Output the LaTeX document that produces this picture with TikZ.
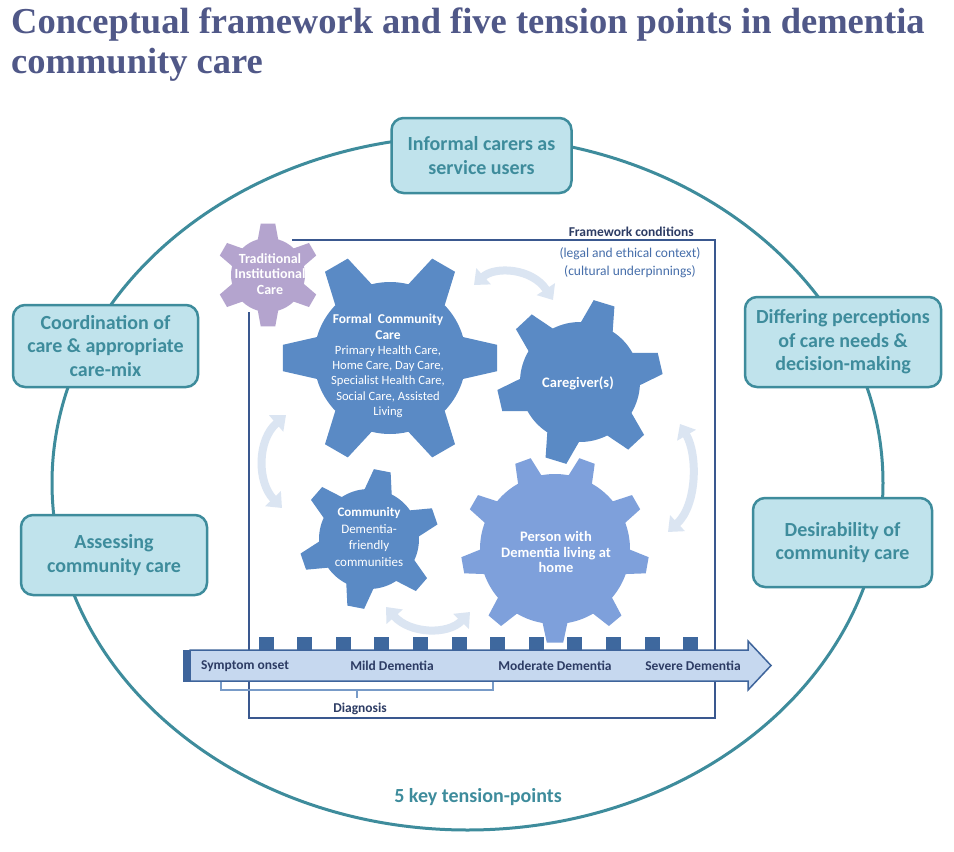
\documentclass[tikz,border=0pt]{standalone}
\usepackage{fontspec}
\setmainfont{Carlito}
\newfontfamily\titlefont{Liberation Serif}
\usetikzlibrary{arrows.meta}

\definecolor{titlec}{RGB}{80,88,136}
\definecolor{teal1}{RGB}{62,140,156}
\definecolor{boxfill}{RGB}{192,227,236}
\definecolor{gearblue}{RGB}{90,138,197}
\definecolor{gearlight}{RGB}{126,160,219}
\definecolor{gearpurple}{RGB}{180,164,206}
\definecolor{navy}{RGB}{45,60,100}
\definecolor{frameblue}{RGB}{58,88,143}
\definecolor{ctxblue}{RGB}{70,110,170}
\definecolor{arrowc}{RGB}{219,229,242}
\definecolor{barfill}{RGB}{198,216,239}
\definecolor{barline}{RGB}{62,100,155}
\definecolor{sqc}{RGB}{62,104,158}
\definecolor{brk}{RGB}{120,155,200}

% #1 x, #2 y, #3 inner r, #4 outer r, #5 teeth, #6 rotation, #7 base half angle, #8 tip half angle, #9 colour
\newcommand\drawgear[9]{%
  \begin{scope}[shift={(#1,#2)}]
    \fill[#9] ({#6-#7}:#3)
      \foreach \i in {1,...,#5}{
        -- ({#6+(\i-1)*360/#5-#8}:#4)
        -- ({#6+(\i-1)*360/#5+#8}:#4)
        -- ({#6+(\i-1)*360/#5+#7}:#3)
        arc[start angle={#6+(\i-1)*360/#5+#7}, end angle={#6+\i*360/#5-#7}, radius=#3]
      } -- cycle;
  \end{scope}}

\newcommand\bl[1]{{\bfseries\fontsize{13.5}{15.3}\selectfont #1}}

\begin{document}
\begin{tikzpicture}[x=1pt,y=-1pt,
  tbox/.style={draw=teal1, fill=boxfill, line width=2.5pt, rounded corners=12pt, text=teal1,
    font=\bfseries\fontsize{20}{23.5}\selectfont, align=center, inner sep=0pt},
  geartext/.style={text=white, align=center, inner sep=0pt},
  bartext/.style={text=navy, font=\bfseries\fontsize{13.5}{15}\selectfont, inner sep=0pt},
  bigarrow/.style={draw=arrowc, line width=8pt,
    arrows={Triangle[width=21pt,length=13pt]-Triangle[width=21pt,length=13pt]}},
]
\useasboundingbox (0,0) rectangle (954,852);
\fill[white] (0,0) rectangle (954,852);

% title
\node[anchor=base west, inner sep=0pt, text=titlec, font=\titlefont\bfseries\fontsize{36.5}{40}\selectfont] (title1) at (11,33) {Conceptual framework and five tension points in dementia};
\node[anchor=base west, inner sep=0pt, text=titlec, font=\titlefont\bfseries\fontsize{36.5}{40}\selectfont] (title2) at (11,73) {community care};

% outer ellipse
\draw[teal1, line width=3pt] (467.5,483) ellipse [x radius=415.5, y radius=347];

% tension point boxes
\node[tbox, minimum width=180pt, minimum height=75pt] (t1) at (481.5,155.5) {Informal carers as\\service users};
\node[tbox, minimum width=185pt, minimum height=82pt] (t2) at (105.5,346) {Coordination of\\care \& appropriate\\care-mix};
\node[tbox, minimum width=186pt, minimum height=80pt] (t3) at (114,555) {Assessing\\community care};
\node[tbox, minimum width=196pt, minimum height=90pt] (t4) at (843,342) {Differing perceptions\\of care needs \&\\decision-making};
\node[tbox, minimum width=179pt, minimum height=89pt] (t5) at (842.5,542.5) {Desirability of\\community care};
\node[text=teal1, font=\bfseries\fontsize{20}{22}\selectfont, inner sep=0pt] (keys) at (478,797) {5 key tension-points};

% framework rectangle (its corner is hidden behind the purple gear)
\draw[frameblue, line width=2pt] (292,240) -- (715,240) -- (715,718) -- (249,718) -- (249,312);
\node[anchor=east, inner sep=0pt, text=navy, font=\bfseries\fontsize{13.5}{14}\selectfont] (fc) at (694,232) {Framework conditions};
\node[inner sep=0pt, text=ctxblue, align=center, font=\fontsize{13.5}{17.5}\selectfont] (ctx) at (630,262.5) {(legal and ethical context)\\(cultural underpinnings)};

% curved arrows
\coordinate (a1s) at (474,285);
\coordinate (a1e) at (553,300);
\coordinate (a2s) at (680,424);
\coordinate (a2e) at (668,532);
\coordinate (a3s) at (386,607);
\coordinate (a3e) at (470,612);
\coordinate (a4s) at (286,415);
\coordinate (a4e) at (282,508);
\draw[bigarrow] (a1s) .. controls (495,266) and (532,268) .. (a1e);
\draw[bigarrow] (a2s) .. controls (698,455) and (697,505) .. (a2e);
\draw[bigarrow] (a3s) .. controls (410,634) and (448,635) .. (a3e);
\draw[bigarrow] (a4s) .. controls (257,440) and (257,482) .. (a4e);

% gears
\drawgear{268}{275}{37}{52}{6}{30}{16}{8}{gearpurple}
\drawgear{390}{358}{76}{108}{6}{0}{16}{7}{gearblue}
\drawgear{580}{382}{60}{83}{6}{47}{16}{7.5}{gearblue}
\drawgear{369}{539}{50}{70}{6}{41}{16}{7}{gearblue}
\drawgear{555}{549}{75}{94}{9}{10}{9.5}{5}{gearlight}

\node[geartext, font=\bfseries\fontsize{14}{15.5}\selectfont] (trad) at (270,274) {Traditional\\Institutional\\Care};
\node[geartext, font=\fontsize{12.6}{15.3}\selectfont] (formal) at (388,366) {\bl{Formal\ \ Community}\\\bl{Care}\\Primary Health Care,\\Home Care,\ Day Care,\\Specialist Health Care,\\Social Care, Assisted\\Living};
\node[geartext, font=\bfseries\fontsize{14.5}{15}\selectfont] (carer) at (578,383) {Caregiver(s)};
\node[geartext, font=\fontsize{13}{16.7}\selectfont] (comm) at (369,537) {\textbf{Community}\\Dementia-\\friendly\\communities};
\node[geartext, font=\bfseries\fontsize{14.5}{15.5}\selectfont] (person) at (556,552) {Person with\\Dementia living at\\home};

% timeline
\foreach \k in {0,...,11}{
  \fill[sqc] ({258.5+38.6*\k},637) rectangle ++(15,14);
}
\filldraw[fill=barfill, draw=barline, line width=1.5pt, line join=miter]
  (190,650) -- (748,650) -- (748,641) -- (771,665.5) -- (748,690) -- (748,681) -- (190,681) -- cycle;
\fill[barline] (183,649.5) rectangle (190,681.5);
\node[bartext] (s1) at (245,666) {Symptom onset};
\node[bartext] (s2) at (392,666) {Mild Dementia};
\node[bartext] (s3) at (555,666) {Moderate Dementia};
\node[bartext] (s4) at (693,666) {Severe Dementia};

% diagnosis bracket
\draw[brk, line width=1.5pt] (221,682) -- (221,690) -- (493,690) -- (493,682);
\draw[brk, line width=1.5pt] (357,690) -- (357,698);
\node[inner sep=0pt, text=navy, font=\bfseries\fontsize{13.5}{14}\selectfont] (diag) at (360,709) {Diagnosis};
\end{tikzpicture}
\end{document}
